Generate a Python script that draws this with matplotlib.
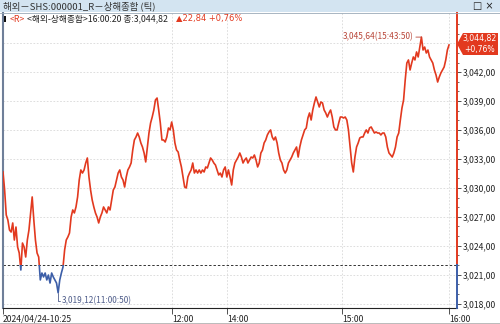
import numpy as np
import matplotlib.pyplot as plt
from matplotlib.patches import Rectangle, Polygon
from matplotlib.lines import Line2D

plt.rcParams['font.family'] = ['Noto Sans CJK KR', 'DejaVu Sans']

# tick-by-tick prices of the Shanghai Composite
price = [
    3031.65, 3029.78, 3027.19, 3026.67, 3025.63, 3025.42, 3026.36, 3024.59, 3025.94, 3023.87,
    3023.25, 3021.48, 3024.28, 3023.87, 3022.83, 3024.59, 3025.63, 3027.40, 3029.06, 3026.67,
    3024.59, 3023.25, 3022.83, 3020.45, 3021.17, 3020.76, 3021.17, 3020.45, 3020.96, 3020.13,
    3021.17, 3020.76, 3020.45, 3020.13, 3019.12, 3020.45, 3021.17, 3021.79, 3023.56, 3024.59,
    3024.91, 3025.32, 3026.98, 3027.71, 3027.40, 3028.02, 3029.06, 3030.82, 3031.86,
    3031.54, 3031.86, 3032.58, 3033.10, 3031.13, 3029.78, 3028.74, 3028.02, 3027.40, 3026.98,
    3026.36, 3026.98, 3027.40, 3028.02, 3027.71, 3027.40, 3028.02, 3027.71, 3028.74, 3029.78,
    3030.09, 3030.82, 3031.54, 3031.86, 3031.13, 3030.82, 3030.09, 3031.13, 3031.86, 3032.17,
    3032.58, 3033.93, 3034.97, 3035.28, 3035.69, 3035.28, 3034.66, 3034.24, 3033.62, 3032.69,
    3034.24,
    3035.69, 3036.73, 3037.35, 3038.08, 3039.12, 3039.32, 3038.08, 3036.73, 3034.97, 3034.97,
    3034.76, 3035.28, 3036.21, 3036.01, 3036.83, 3036.01, 3034.66, 3033.93, 3033.72, 3032.89,
    3032.17, 3031.13, 3030.09, 3029.99, 3031.13, 3031.54, 3031.86, 3032.58, 3031.54, 3031.86,
    3031.54, 3031.86, 3031.54, 3031.86, 3031.65, 3032.17, 3032.06, 3032.58, 3033.10, 3032.89,
    3032.58, 3032.37, 3031.86, 3031.34, 3031.54, 3031.13, 3031.86, 3032.17, 3031.13,
    3031.86, 3031.13, 3030.30, 3031.86, 3032.58, 3032.89, 3033.20, 3033.62, 3033.20, 3032.58,
    3032.89, 3033.10, 3032.58, 3032.89, 3033.20, 3033.10, 3033.41, 3032.89, 3032.17, 3032.58,
    3033.62, 3033.93, 3034.66, 3034.97, 3035.49, 3035.80, 3036.01, 3035.28, 3034.97, 3035.28,
    3034.66, 3033.62, 3032.89, 3032.58, 3031.86, 3031.54, 3031.86, 3032.58, 3032.89, 3033.20,
    3033.62, 3033.93, 3034.24, 3033.20, 3034.24, 3034.97, 3035.49, 3036.01, 3036.21,
    3037.25, 3037.77, 3037.04, 3038.08, 3038.81, 3039.43, 3038.91, 3038.39, 3038.91, 3038.81,
    3038.08, 3037.77, 3037.35, 3037.77, 3038.08, 3037.35, 3036.32, 3036.01, 3036.01, 3036.73,
    3037.35, 3037.35, 3037.25, 3037.35, 3037.04, 3036.01, 3034.24, 3032.58, 3031.65, 3033.20,
    3034.24, 3034.66, 3035.18, 3035.28, 3035.28, 3035.69, 3036.01, 3035.69, 3036.21, 3036.32,
    3036.01, 3035.69, 3035.80, 3035.69, 3035.69, 3035.49, 3035.69, 3035.69, 3035.28, 3034.24,
    3033.62, 3033.41, 3033.20, 3033.62, 3034.24, 3035.28, 3035.69,
    3037.04, 3038.29, 3039.12, 3041.19, 3042.95, 3043.27, 3042.23, 3042.95, 3043.58, 3043.27,
    3044.10, 3043.58, 3044.61, 3045.64, 3044.30, 3044.61, 3043.99, 3044.30, 3043.58, 3043.27,
    3042.95, 3042.23, 3041.71, 3040.98, 3041.50, 3041.92, 3042.23, 3042.54, 3043.27, 3044.30,
    3044.82,
]
prev_close = 3021.98
last = 3044.82
change = 22.84
change_pct = 0.76

tick_labels = ['2024/04/24-10:25', '12:00', '14:00', '15:00', '16:00']
tick_frac = [0.0, 0.379, 0.502, 0.760, 1.0]
y_ticks = [3018, 3021, 3024, 3027, 3030, 3033, 3036, 3039, 3042, 3045]

RED = '#e2391f'
BLUE = '#3c5ea8'
W, H = 500, 324


def fx(x):
    return x / W


def fy(y):
    return 1 - y / H


def kfmt(v):
    return f'{v:,.2f}'.replace('.', ',')


n = len(price)
x = np.arange(n)
p = np.array(price)

fig = plt.figure(figsize=(5, 3.24), dpi=100)
ax = fig.add_axes([fx(3), fy(308), 454 / W, 295 / H])
ylo, yhi = 3017.54, 3048.14
xmax = (n - 1) * 454 / 446
ax.set_xlim(0, xmax)
ax.set_ylim(ylo, yhi)

# grid
for v in y_ticks:
    ax.axhline(v, color='#d8d8d8', lw=0.6, ls=(0, (2, 2)), zorder=0)
xt = [f * (n - 1) for f in tick_frac]
for v in xt[1:]:
    ax.axvline(v, color='#d8d8d8', lw=0.6, ls=(0, (2, 2)), zorder=0)

ax.axhline(prev_close, color='#333333', lw=0.7, ls=(0, (2.5, 2)), zorder=1)

# price line, red above previous close, blue below
up, = ax.plot(x, p, color=RED, lw=1.2, zorder=3)
dn, = ax.plot(x, p, color=BLUE, lw=1.2, zorder=3)
up.set_clip_path(Rectangle((0, prev_close), xmax, yhi - prev_close, transform=ax.transData))
dn.set_clip_path(Rectangle((0, ylo), xmax, prev_close - ylo, transform=ax.transData))

# high / low notes
hi = int(np.argmax(p))
lo = int(np.argmin(p))
ax.annotate('3,045,64(15:43:50)', xy=(hi, p[hi]), xytext=(-6, 0), textcoords='offset points',
            ha='right', va='center', fontsize=6, color='#b9473a',
            arrowprops=dict(arrowstyle='-', color='#b9473a', lw=0.6, shrinkA=0, shrinkB=0))
ax.annotate('3,019,12(11:00:50)', xy=(lo, p[lo]), xytext=(3, -6), textcoords='offset points',
            ha='left', va='center', fontsize=6, color='#4f5d8a',
            arrowprops=dict(arrowstyle='-', color='#4f5d8a', lw=0.6, shrinkA=0, shrinkB=0,
                            connectionstyle='angle,angleA=0,angleB=90,rad=0'))

# axes styling
for s in ['top', 'right']:
    ax.spines[s].set_visible(False)
ax.spines['left'].set_color('#6f7f99')
ax.spines['left'].set_linewidth(1.5)
ax.spines['bottom'].set_color('#222222')
ax.spines['bottom'].set_linewidth(0.8)
fr = (prev_close - ylo) / (yhi - ylo)
ax.axvline(xmax, ymin=fr, ymax=1, color=RED, lw=1.4, clip_on=False, zorder=5)
ax.axvline(xmax, ymin=0, ymax=fr, color=BLUE, lw=1.4, clip_on=False, zorder=5)

# the 3,045 label sits under the current price tag, so it is left blank
ax.yaxis.tick_right()
ax.set_yticks(y_ticks, [kfmt(v) if v < 3045 else '' for v in y_ticks])
ax.set_yticks(np.arange(3018, 3048, 1), minor=True)
ax.tick_params(axis='y', which='major', direction='out', length=3, width=0.6,
               color='#333333', labelsize=6.2, pad=1, labelcolor='#222222')
ax.tick_params(axis='y', which='minor', direction='out', length=1.5, width=0.5, color='#333333')
ax.set_xticks(xt, tick_labels)
ax.tick_params(axis='x', direction='out', length=4, width=0.6, color='#333333',
               labelsize=6.2, pad=1, labelcolor='#222222')
for lbl in ax.get_xticklabels():
    lbl.set_ha('left')

# title bar
fig.patches.append(Rectangle((0, fy(12)), 1, 12 / H, transform=fig.transFigure,
                             facecolor='#d3e4f1', edgecolor='none', zorder=2))
fig.add_artist(Line2D([0, 1], [fy(12.5), fy(12.5)], color='#9aa9b8', lw=0.6, zorder=3))
fig.text(fx(3), fy(6), '해외－SHS:000001_R－상해종합 (틱)', fontsize=6.8, color='#333333',
         va='center', ha='left', zorder=4)
fig.text(fx(483), fy(6), '□ ×', fontsize=7, color='#222222', va='center', ha='center',
         zorder=4, family=['DejaVu Sans'])

# legend row
fig.patches.append(Rectangle((fx(4), fy(22)), 2 / W, 6 / H, transform=fig.transFigure,
                             facecolor='#111111', edgecolor='none', zorder=4))
fig.text(fx(10), fy(19), '<R>', fontsize=6.3, color=RED, va='center', ha='left', zorder=4)
fig.text(fx(27), fy(19), f'<해외-상해종합>16:00:20 종:{kfmt(last)}', fontsize=6.3,
         color='#222222', va='center', ha='left', zorder=4)
fig.text(fx(176), fy(19), f'▲{kfmt(change)} +{kfmt(change_pct)}%', fontsize=6.0,
         color=RED, va='center', ha='left', zorder=4, family=['DejaVu Sans'])

# current price tag
tag = Polygon([(fx(457), fy(44)), (fx(463), fy(33)), (fx(498), fy(33)),
               (fx(498), fy(55)), (fx(463), fy(55))], closed=True,
              transform=fig.transFigure, facecolor=RED, edgecolor='none', zorder=6)
fig.patches.append(tag)
fig.text(fx(480), fy(38.5), kfmt(last), fontsize=5.6, color='white', ha='center', va='center',
         zorder=7, family=['DejaVu Sans'])
fig.text(fx(480), fy(49.5), f'+{kfmt(change_pct)}%', fontsize=5.6, color='white',
         ha='center', va='center', zorder=7, family=['DejaVu Sans'])

fig.add_artist(Line2D([0, 1], [fy(322.5), fy(322.5)], color='#b0b0b0', lw=0.6, zorder=3))

fig.savefig('out.png', dpi=100)
